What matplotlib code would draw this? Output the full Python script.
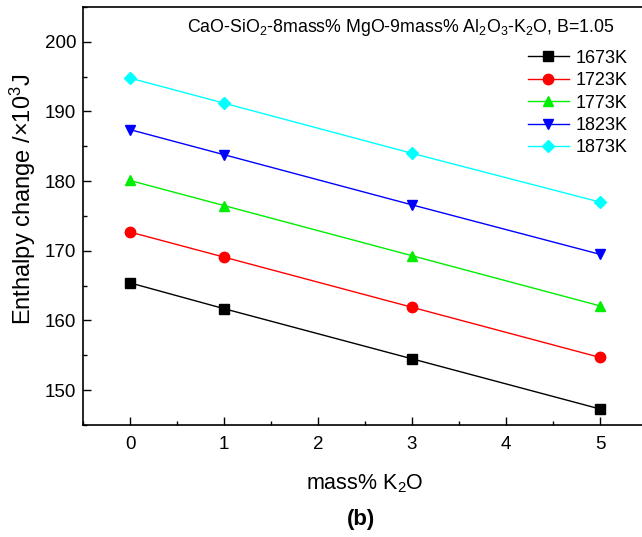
import numpy as np
import matplotlib
matplotlib.use('Agg')
import matplotlib.pyplot as plt
from matplotlib.ticker import MultipleLocator

plt.rcParams['font.family'] = ['Liberation Sans', 'DejaVu Sans']
plt.rcParams['mathtext.fontset'] = 'custom'
plt.rcParams['mathtext.rm'] = 'Liberation Sans'
plt.rcParams['mathtext.it'] = 'Liberation Sans:italic'
plt.rcParams['mathtext.default'] = 'regular'
#
# Datos
#
k2o = [0, 1, 3, 5]
labels = ['1673K', '1723K', '1773K', '1823K', '1873K']
h1673 = [165.4, 161.7, 154.5, 147.3]
h1723 = [172.7, 169.1, 161.9, 154.7]
h1773 = [180.1, 176.5, 169.3, 162.1]
h1823 = [187.4, 183.8, 176.6, 169.5]
h1873 = [194.8, 191.2, 184.0, 177.0]
series = [h1673, h1723, h1773, h1823, h1873]
colors = ['black', 'red', '#00ee00', 'blue', 'cyan']
markers = ['s', 'o', '^', 'v', 'D']
msizes = [6.5, 7.5, 7.5, 7.5, 6.5]
#
# Figura y ejes
#
fig = plt.figure(figsize=(6.42, 5.37), dpi=100)
ax = fig.add_axes([83/642, 1 - 425/537, 564/642, 418/537])

for h, lab, c, m, s in zip(series, labels, colors, markers, msizes):
    ax.plot(k2o, h, color=c, lw=1.0, marker=m, ms=s, mec=c, label=lab)

ax.set_xlim(-0.5, 5.5)
ax.set_ylim(145, 205)
ax.xaxis.set_major_locator(MultipleLocator(1))
ax.xaxis.set_minor_locator(MultipleLocator(0.5))
ax.yaxis.set_major_locator(MultipleLocator(10))
ax.yaxis.set_minor_locator(MultipleLocator(5))
ax.tick_params(which='both', direction='in', labelsize=13.5, width=1.0)
ax.tick_params(which='major', length=6)
ax.tick_params(which='minor', length=3)
ax.tick_params(axis='x', which='major', pad=8)
ax.tick_params(axis='y', which='major', pad=5)
for sp in ax.spines.values():
    sp.set_linewidth(1.2)

ax.set_xlabel('mass% K$_2$O', fontsize=15.5, labelpad=14)
ax.set_ylabel('Enthalpy change /×10$^3$J', fontsize=17)
ax.yaxis.set_label_coords(-0.08, 0.54)

ax.text(0.943, 0.95, 'CaO-SiO$_2$-8mass% MgO-9mass% Al$_2$O$_3$-K$_2$O, B=1.05',
        transform=ax.transAxes, ha='right', va='center', fontsize=12.8)

ax.legend(loc='upper right', bbox_to_anchor=(0.978, 0.915), frameon=False,
          fontsize=13, handlelength=2.3, handletextpad=0.35, labelspacing=0.3,
          borderaxespad=0)

fig.text(361/642, 1 - 520/537, '(b)', ha='center', va='center',
         fontsize=16, fontweight='bold')

fig.savefig('out.png', dpi=100)
